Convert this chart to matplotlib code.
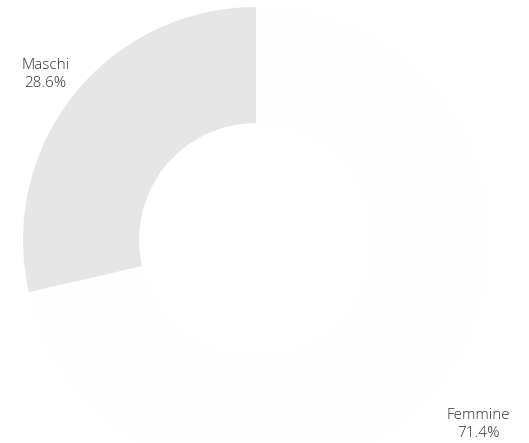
import matplotlib.pyplot as plt

labels = ["Maschi", "Femmine"]
shares = [28.6, 71.4]
colors = ["#e6e6e6", "#fefefe"]

W, H = 529, 443
fig = plt.figure(figsize=(W / 100, H / 100), dpi=100)
ax = fig.add_axes([0, 0, 1, 1])

texts = [f"{lab}\n{val:.1f}%" for lab, val in zip(labels, shares)]
wedges, label_texts = ax.pie(
    shares,
    labels=texts,
    colors=colors,
    startangle=90,
    counterclock=True,
    center=(256, 203),
    radius=233,
    labeldistance=1.2,
    wedgeprops=dict(width=116, linewidth=0),
    textprops=dict(fontsize=11, color="#333333", family="Open Sans",
                   fontweight="light"),
    frame=True,
)
# nudge labels a bit to sit where the original puts them
nudges = [(8, -9), (4, -10)]
for t, (dx, dy) in zip(label_texts, nudges):
    x, y = t.get_position()
    t.set_position((x + dx, y + dy))
    t.set_horizontalalignment("center")
    t.set_verticalalignment("center")
    t.set_multialignment("center")
    t.set_linespacing(1.25)

ax.set_xlim(0, W)
ax.set_ylim(0, H)
ax.axis("off")

fig.savefig("out.png", dpi=100)
